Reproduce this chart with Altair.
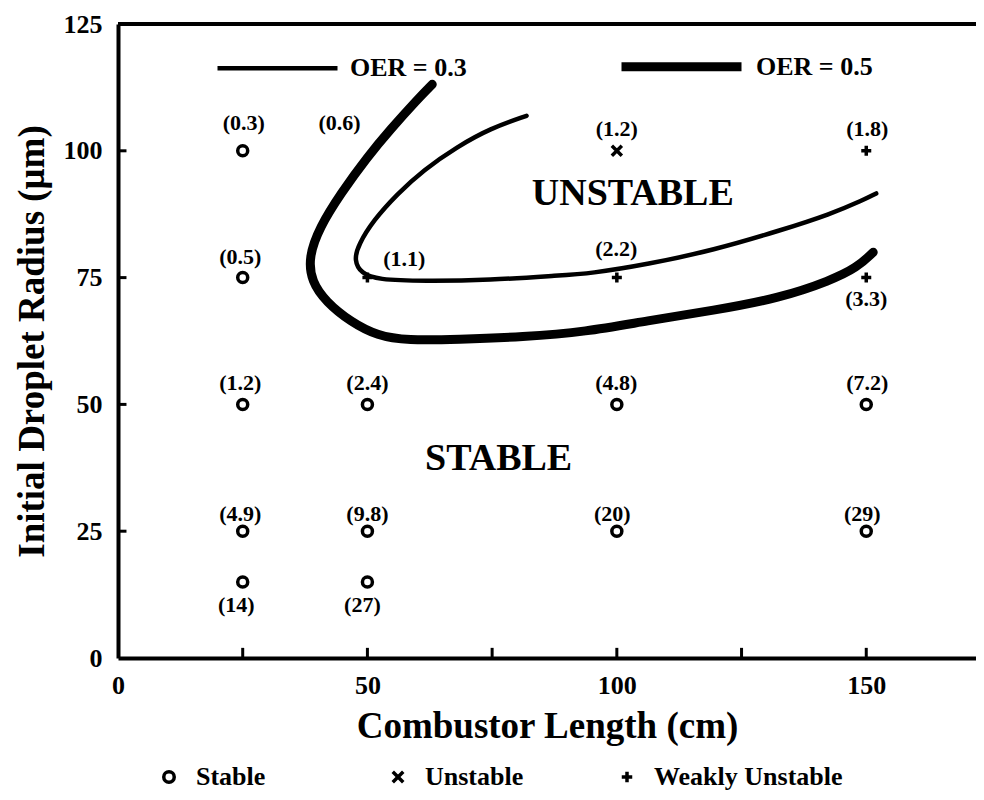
import altair as alt
import pandas as pd

# ---------------- data ----------------
curve_names = ["OER = 0.3", "OER = 0.5"]

thin_x = [81.9, 74.6, 68.0, 61.2, 56.0, 51.2, 48.2, 47.3, 48.8, 52.0, 61.2, 74.6,
          88.1, 94.7, 106.1, 119.4, 132.8, 142.8, 149.4, 152.0]
thin_y = [106.9, 104.4, 100.8, 96.2, 91.5, 86.3, 81.5, 78.4, 75.8, 74.6, 74.3, 74.5,
          75.4, 75.8, 77.6, 80.4, 84.3, 87.5, 90.3, 91.6]

thick_x = [63.0, 60.0, 54.6, 50.0, 44.6, 40.4, 38.2, 38.8, 41.7, 46.6, 52.0, 58.0,
           68.0, 81.3, 93.7, 106.1, 119.3, 132.8, 142.8, 148.2, 151.4]
thick_y = [113.1, 110.1, 104.2, 98.8, 91.5, 84.9, 79.0, 74.2, 70.2, 66.3, 63.5, 62.6,
           62.8, 63.3, 64.3, 66.5, 68.5, 71.0, 74.4, 77.0, 80.0]

kinds = ["Stable", "Unstable", "Weakly Unstable"]
pt_x = [25, 25, 25, 50, 100, 150, 25, 50, 100, 150, 25, 50, 100, 150, 50, 100, 150]
pt_y = [100, 75, 50, 50, 50, 50, 25, 25, 25, 25, 15, 15, 100, 100, 75, 75, 75]
pt_kind = ["Stable"] * 12 + ["Unstable"] + ["Weakly Unstable"] * 4

label_text = ["(0.3)", "(0.6)", "(1.2)", "(1.8)", "(0.5)", "(1.1)", "(2.2)", "(3.3)",
              "(1.2)", "(2.4)", "(4.8)", "(7.2)", "(4.9)", "(9.8)", "(20)", "(29)",
              "(14)", "(27)"]
label_x = [25.2, 44.4, 100.0, 150.2, 24.5, 57.4, 99.9, 150.0,
           24.5, 50.0, 99.9, 150.2, 24.5, 50.0, 99.1, 149.2, 23.7, 49.0]
label_y = [105.4, 105.4, 104.2, 104.2, 79.0, 78.6, 80.6, 70.8,
           54.2, 54.2, 54.2, 54.2, 28.4, 28.4, 28.4, 28.4, 10.5, 10.5]

region_text = ["UNSTABLE", "STABLE"]
region_x = [103.2, 76.3]
region_y = [91.5, 39.3]

x_label_values = [0, 50, 100, 150]
y_label_values = [0, 25, 50, 75, 100, 125]
x_tick_values = [25, 50, 75, 100, 125, 150]
y_tick_values = [25, 50, 75, 100]

# ---------------- tables ----------------
curves = pd.DataFrame({
    "x": thin_x + thick_x,
    "y": thin_y + thick_y,
    "curve": [curve_names[0]] * len(thin_x) + [curve_names[1]] * len(thick_x),
    "idx": list(range(len(thin_x))) + list(range(len(thick_x))),
})
points = pd.DataFrame({"x": pt_x, "y": pt_y, "kind": pt_kind})
labels = pd.DataFrame({"x": label_x, "y": label_y, "t": label_text})
regions = pd.DataFrame({"x": region_x, "y": region_y, "t": region_text})
xticks = pd.DataFrame({"x": x_tick_values})
yticks = pd.DataFrame({"y": y_tick_values})

FONT = "Liberation Serif"

xscale = alt.Scale(domain=[0, 172], nice=False, zero=False)
yscale = alt.Scale(domain=[0, 125], nice=False, zero=False)

xaxis = alt.Axis(values=x_label_values, ticks=False, grid=False, domainWidth=4,
                 domainColor="black", labelFont=FONT, labelFontSize=26,
                 labelFontWeight="bold", labelColor="black", labelPadding=14,
                 labelFlush=False, title="Combustor Length (cm)", titleFont=FONT,
                 titleFontSize=37, titleFontWeight="bold", titleColor="black",
                 titlePadding=10)
yaxis = alt.Axis(values=y_label_values, ticks=False, grid=False, domainWidth=4,
                 domainColor="black", labelFont=FONT, labelFontSize=26,
                 labelFontWeight="bold", labelColor="black", labelPadding=16,
                 labelFlush=False, title="Initial Droplet Radius  (μm)",
                 titleFont=FONT, titleFontSize=37, titleFontWeight="bold",
                 titleColor="black", titlePadding=12)

pts = alt.Chart(points).mark_point(filled=False, color="black", strokeWidth=3.5,
                                   size=100, opacity=1).encode(
    x=alt.X("x:Q", scale=xscale, axis=xaxis),
    y=alt.Y("y:Q", scale=yscale, axis=yaxis),
    shape=alt.Shape("kind:N", scale=alt.Scale(
        domain=kinds,
        range=["circle", "M-1,-1L1,1M-1,1L1,-1", "M-1,0L1,0M0,-1L0,1"]),
        legend=alt.Legend(title=None, orient="none", legendX=38, legendY=740,
                          direction="horizontal", labelFont=FONT, labelFontSize=26,
                          labelFontWeight="bold", labelColor="black",
                          symbolStrokeColor="black", symbolStrokeWidth=3.5,
                          symbolSize=110, labelOffset=14, gridAlign="all",
                          columnPadding=0, labelLimit=400)),
)

lines = alt.Chart(curves).mark_line(color="black", strokeCap="round",
                                    strokeJoin="round",
                                    interpolate="basis").encode(
    x="x:Q",
    y="y:Q",
    order="idx:Q",
    strokeWidth=alt.StrokeWidth("curve:O", scale=alt.Scale(domain=curve_names,
                                                          range=[4.5, 9]),
        legend=alt.Legend(title=None, orient="none", legendX=97, legendY=-22,
                          direction="horizontal", labelFont=FONT, labelFontSize=26,
                          labelFontWeight="bold", labelColor="black",
                          symbolStrokeColor="black", symbolSize=14400,
                          labelOffset=10, columnPadding=136, labelLimit=300)),
)

lbls = alt.Chart(labels).mark_text(font=FONT, fontWeight="bold", fontSize=22,
                                   color="black", baseline="middle",
                                   align="center").encode(
    x="x:Q", y="y:Q", text="t:N")

regs = alt.Chart(regions).mark_text(font=FONT, fontWeight="bold", fontSize=38,
                                    color="black", baseline="middle",
                                    align="center").encode(
    x="x:Q", y="y:Q", text="t:N")

xt = alt.Chart(xticks).mark_rule(color="black", strokeWidth=3).encode(
    x="x:Q", y=alt.datum(0), y2=alt.datum(2))
yt = alt.Chart(yticks).mark_rule(color="black", strokeWidth=3).encode(
    y="y:Q", x=alt.datum(0), x2=alt.datum(1.7))
top = alt.Chart(points).mark_rule(color="black", strokeWidth=4).encode(
    y=alt.datum(125))

chart = alt.layer(pts, lines, lbls, regs, xt, yt, top).properties(
    width=858, height=634,
    autosize=alt.AutoSizeParams(type="none"),
    padding={"left": 110, "top": 16, "right": 0, "bottom": 134},
    background="white",
).configure_view(stroke=None)

chart.save("out.html", embed_options={"renderer": "svg", "actions": False})
